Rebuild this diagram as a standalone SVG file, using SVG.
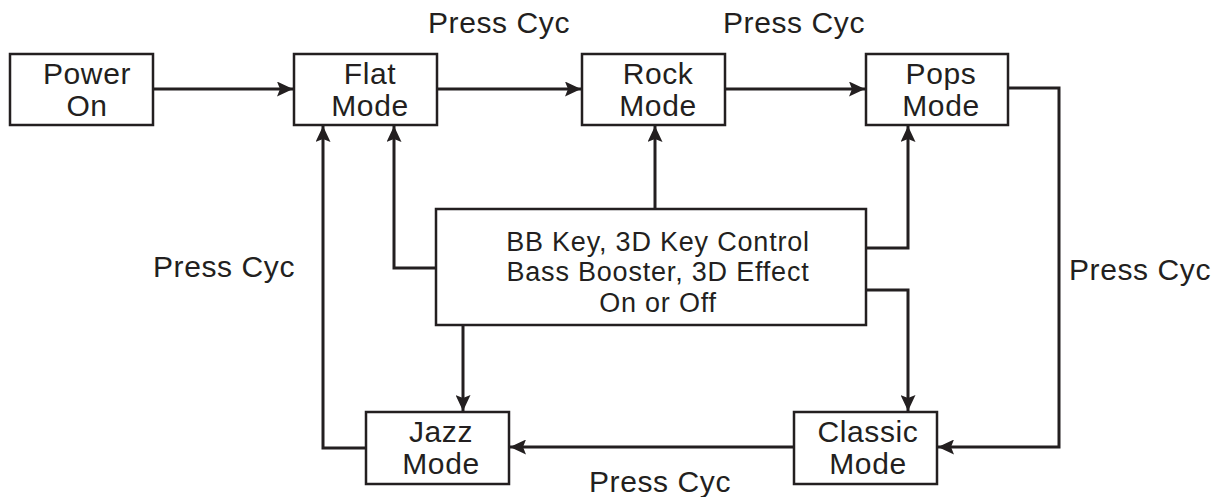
<svg xmlns="http://www.w3.org/2000/svg" width="1224" height="497" viewBox="0 0 1224 497">
<style>
.box{fill:#fff;stroke:#231f20;stroke-width:2.5}
.t{font-family:"Liberation Sans",Arial,sans-serif;font-size:30px;fill:#231f20;text-anchor:middle;letter-spacing:0.6px}
.c{font-size:27px;letter-spacing:0.8px}
.ln{fill:none;stroke:#231f20;stroke-width:3}
</style>
<defs>
<marker id="ah" markerUnits="userSpaceOnUse" markerWidth="16" markerHeight="15" viewBox="0 0 16 15" refX="16" refY="7.5" orient="auto">
<path d="M0,0 L16,7.5 L0,15 L3,7.5 Z" fill="#231f20"/>
</marker>
</defs>
<rect width="1224" height="497" fill="#fff"/>
<g id="connectors">
<line class="ln" x1="153" y1="89" x2="293" y2="89" marker-end="url(#ah)"/>
<line class="ln" x1="437" y1="89" x2="581" y2="89" marker-end="url(#ah)"/>
<line class="ln" x1="725" y1="89" x2="865" y2="89" marker-end="url(#ah)"/>
<polyline class="ln" points="1008,88 1059,88 1059,447 938,447" marker-end="url(#ah)"/>
<line class="ln" x1="794" y1="447" x2="510" y2="447" marker-end="url(#ah)"/>
<polyline class="ln" points="366,448 323,448 323,126" marker-end="url(#ah)"/>
<polyline class="ln" points="436,268 394,268 394,126" marker-end="url(#ah)"/>
<line class="ln" x1="655" y1="209" x2="655" y2="126" marker-end="url(#ah)"/>
<polyline class="ln" points="866,248 908,248 908,126" marker-end="url(#ah)"/>
<polyline class="ln" points="866,290 908,290 908,411" marker-end="url(#ah)"/>
<line class="ln" x1="463" y1="325" x2="463" y2="411" marker-end="url(#ah)"/>
</g>
<g id="power">
<rect class="box" x="10" y="54" width="143" height="71"/>
<text class="t" x="87" y="84">Power</text>
<text class="t" x="87" y="116">On</text>
</g>
<g id="flat">
<rect class="box" x="294" y="54" width="143" height="71"/>
<text class="t" x="370" y="84">Flat</text>
<text class="t" x="370" y="116">Mode</text>
</g>
<g id="rock">
<rect class="box" x="582" y="54" width="143" height="71"/>
<text class="t" x="658" y="84">Rock</text>
<text class="t" x="658" y="116">Mode</text>
</g>
<g id="pops">
<rect class="box" x="866" y="54" width="142" height="71"/>
<text class="t" x="941" y="84">Pops</text>
<text class="t" x="941" y="116">Mode</text>
</g>
<g id="control">
<rect class="box" x="436" y="209" width="430" height="116"/>
<text class="t c" x="658" y="251">BB Key, 3D Key Control</text>
<text class="t c" x="658" y="281">Bass Booster, 3D Effect</text>
<text class="t c" x="658" y="312">On or Off</text>
</g>
<g id="jazz">
<rect class="box" x="366" y="412" width="143" height="72"/>
<text class="t" x="441" y="442">Jazz</text>
<text class="t" x="441" y="474">Mode</text>
</g>
<g id="classic">
<rect class="box" x="794" y="412" width="143" height="72"/>
<text class="t" x="868" y="442">Classic</text>
<text class="t" x="868" y="474">Mode</text>
</g>
<g id="labels">
<text class="t" x="499" y="33">Press Cyc</text>
<text class="t" x="794" y="33">Press Cyc</text>
<text class="t" x="224" y="277">Press Cyc</text>
<text class="t" x="1140" y="280">Press Cyc</text>
<text class="t" x="660" y="492">Press Cyc</text>
</g>
</svg>
